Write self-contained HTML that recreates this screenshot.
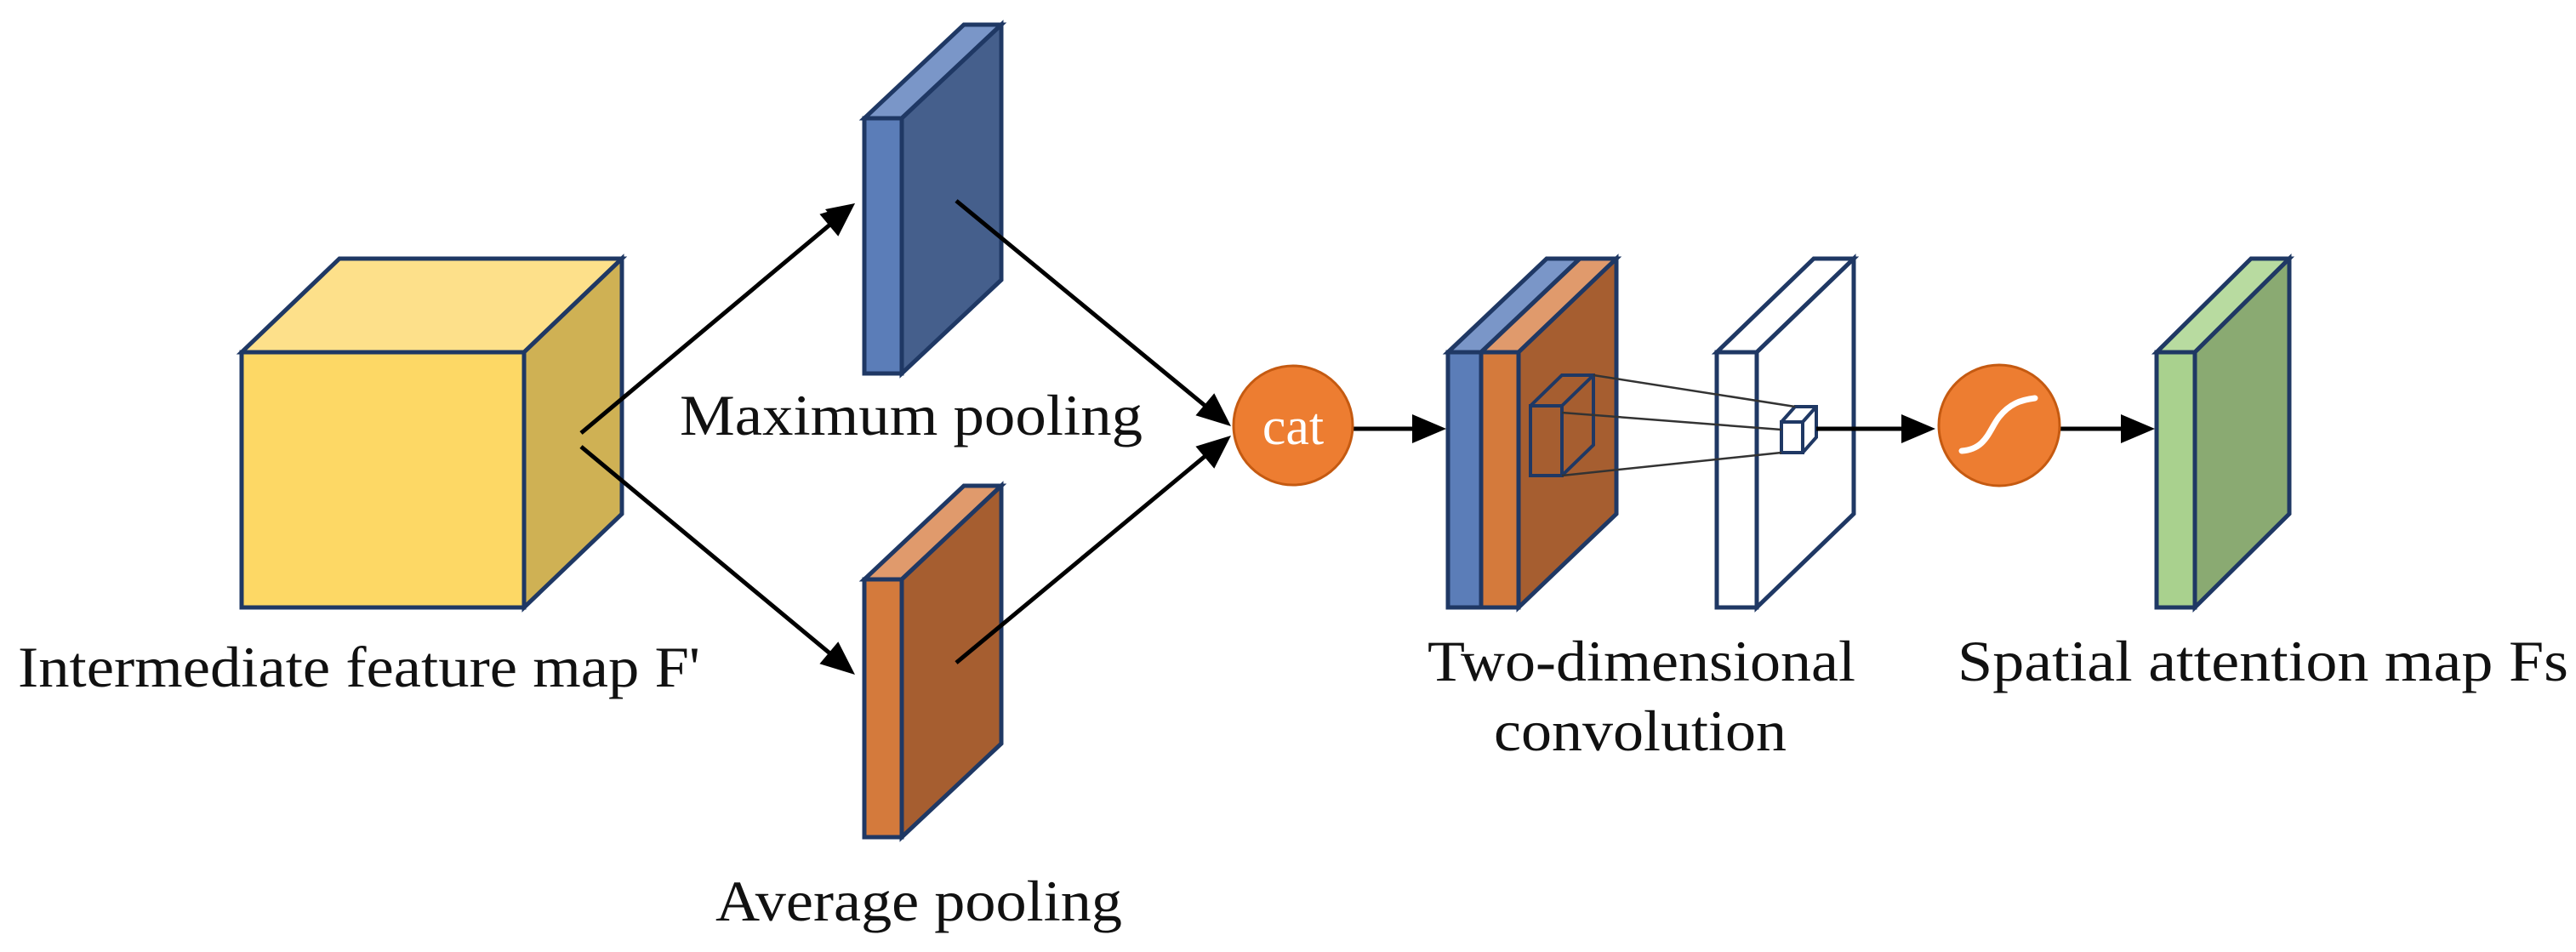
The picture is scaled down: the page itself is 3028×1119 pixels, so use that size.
<!DOCTYPE html>
<html><head><meta charset="utf-8"><style>html,body{margin:0;padding:0;background:#fff}svg{display:block}</style></head>
<body>
<svg width="3028" height="1119" viewBox="0 0 3028 1119" xmlns="http://www.w3.org/2000/svg">
<defs>
<marker id="ah" viewBox="0 0 10 10" refX="9" refY="5" markerWidth="9" markerHeight="9" markerUnits="userSpaceOnUse" orient="auto" style="overflow:visible">
<path d="M0,0 L10,5 L0,10 z" fill="#000" transform="scale(4.2) translate(-7.5,-5) translate(7.5,5) translate(-9,-5)"/>
</marker>
</defs>
<g stroke="#1F3864" stroke-width="5" stroke-linejoin="miter">
<!-- cube -->
<polygon points="284,414 399,304 731,304 616,414" fill="#FDE08A"/>
<polygon points="616,414 731,304 731,604 616,714" fill="#CFB154"/>
<rect x="284" y="414" width="332" height="300" fill="#FDD865"/>
<!-- blue slab -->
<polygon points="1016,139 1133,29 1177,29 1060,139" fill="#7A96C8"/>
<polygon points="1060,139 1177,29 1177,329 1060,439" fill="#455F8C"/>
<rect x="1016" y="139" width="44" height="300" fill="#5B7DB8"/>
<!-- orange slab -->
<polygon points="1016,681 1133,571 1177,571 1060,681" fill="#E09A6C"/>
<polygon points="1060,681 1177,571 1177,874 1060,984" fill="#A65E30"/>
<rect x="1016" y="681" width="44" height="303" fill="#D47A3C"/>
<!-- stack -->
<polygon points="1702,414 1818,304 1857,304 1741,414" fill="#7A96C8"/>
<polygon points="1741,414 1857,304 1900,304 1785,414" fill="#E09A6C"/>
<polygon points="1785,414 1900,304 1900,604 1785,714" fill="#A65E30"/>
<rect x="1702" y="414" width="39" height="300" fill="#5B7DB8"/>
<rect x="1741" y="414" width="44" height="300" fill="#D47A3C"/>
<!-- white slab -->
<polygon points="2018,414 2132,304 2179,304 2065,414" fill="#fff"/>
<polygon points="2065,414 2179,304 2179,604 2065,714" fill="#fff"/>
<rect x="2018" y="414" width="47" height="300" fill="#fff"/>
<!-- green slab -->
<polygon points="2535,414 2646,304 2691,304 2580,414" fill="#B8DBA0"/>
<polygon points="2580,414 2691,304 2691,604 2580,714" fill="#8AAA72"/>
<rect x="2535" y="414" width="45" height="300" fill="#A9D18E"/>
</g>
<!-- inner kernel cube -->
<g stroke="#1F3864" stroke-width="4" fill="none">
<rect x="1799" y="477" width="37" height="82"/>
<polyline points="1799,477 1836,441 1873,441 1873,523 1836,559"/>
<line x1="1836" y1="477" x2="1873" y2="441"/>
<rect x="2094" y="496" width="25" height="36" fill="#fff"/>
<polyline points="2094,496 2110,478 2135,478 2135,514 2119,532"/>
<line x1="2119" y1="496" x2="2135" y2="478"/>
</g>
<g stroke="#333" stroke-width="2.5">
<line x1="1873" y1="441" x2="2110" y2="478"/>
<line x1="1836" y1="485" x2="2094" y2="505"/>
<line x1="1836" y1="559" x2="2094" y2="532"/>
</g>
<!-- arrows -->
<g stroke="#000" stroke-width="5" fill="none">
<line x1="683" y1="509" x2="990" y2="252"/>
<line x1="683" y1="525" x2="990" y2="780"/>
<line x1="1124" y1="236" x2="1430" y2="488"/>
<line x1="1124" y1="779" x2="1430" y2="525"/>
<line x1="1591" y1="504" x2="1670" y2="504"/>
<line x1="2135" y1="504" x2="2245" y2="504"/>
<line x1="2422" y1="504" x2="2500" y2="504"/>
</g>
<g fill="#000">
<polygon points="1005,239 970,246 985,264"/>
<polygon points="0,0 -40,-17 -40,17" transform="translate(1005,239) rotate(-40)"/>
<polygon points="0,0 -40,-17 -40,17" transform="translate(1005,793) rotate(40)"/>
<polygon points="0,0 -40,-17 -40,17" transform="translate(1447,501) rotate(40)"/>
<polygon points="0,0 -40,-17 -40,17" transform="translate(1447,512) rotate(-40)"/>
<polygon points="0,0 -40,-17 -40,17" transform="translate(1700,504)"/>
<polygon points="0,0 -40,-17 -40,17" transform="translate(2275,504)"/>
<polygon points="0,0 -40,-17 -40,17" transform="translate(2533,504)"/>
</g>
<!-- circles -->
<circle cx="1520" cy="500" r="70" fill="#ED7D31" stroke="#C55A11" stroke-width="3"/>
<text x="1520" y="522" font-family="Liberation Serif, serif" font-size="62" fill="#fff" text-anchor="middle">cat</text>
<circle cx="2350" cy="500" r="71" fill="#ED7D31" stroke="#C55A11" stroke-width="3"/>
<path d="M2306,530 C2335,528 2338,505 2350,490 C2362,475 2375,470 2392,468" stroke="#fff" stroke-width="7" fill="none" stroke-linecap="round"/>
<!-- labels -->
<g font-family="Liberation Serif, serif" font-size="68" fill="#111">
<text x="21" y="807" textLength="802" lengthAdjust="spacingAndGlyphs">Intermediate feature map F'</text>
<text x="799" y="511" textLength="544" lengthAdjust="spacingAndGlyphs">Maximum pooling</text>
<text x="841" y="1082" textLength="478" lengthAdjust="spacingAndGlyphs">Average pooling</text>
<text x="1678" y="800" textLength="503" lengthAdjust="spacingAndGlyphs">Two-dimensional</text>
<text x="1756" y="882" textLength="344" lengthAdjust="spacingAndGlyphs">convolution</text>
<text x="2301" y="800" textLength="718" lengthAdjust="spacingAndGlyphs">Spatial attention map Fs</text>
</g>
</svg>
</body></html>
